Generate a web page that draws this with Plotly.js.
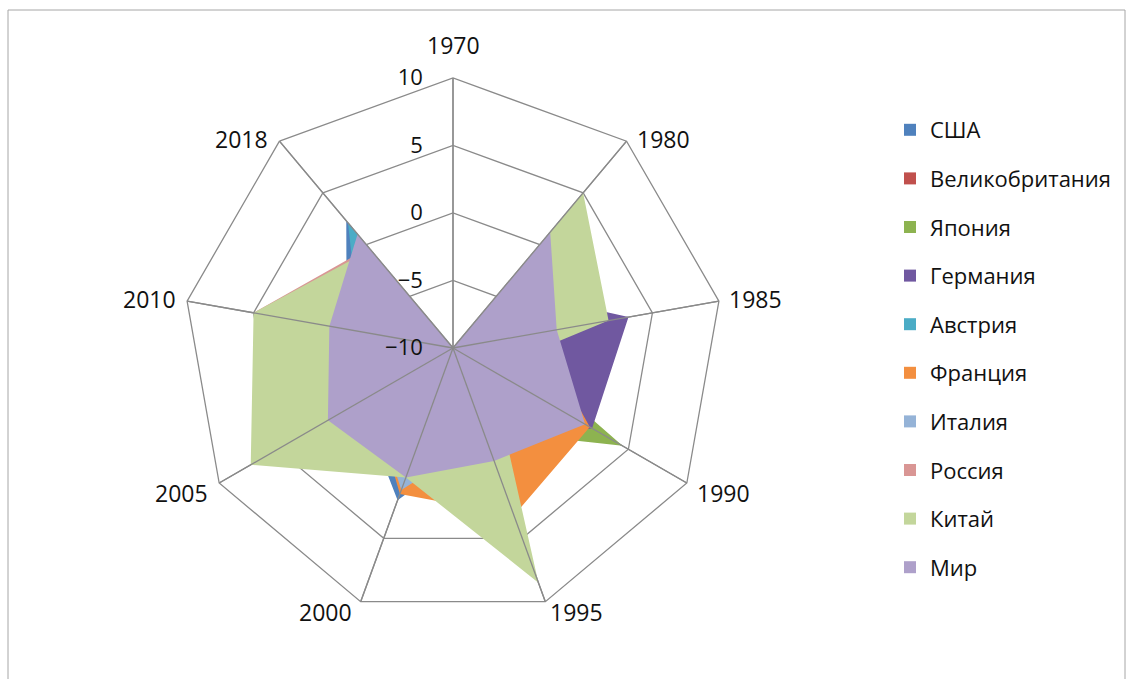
<!DOCTYPE html>
<html>
<head>
<meta charset="utf-8">
<script src="https://cdn.plot.ly/plotly-3.0.1.min.js"></script>
<style>html,body{margin:0;padding:0;background:#fff;}#chart{width:1132px;height:679px;}</style>
</head>
<body>
<div id="chart"></div>
<script>
const categories = ['1970', '1980', '1985', '1990', '1995', '2000', '2005', '2010', '2018'];
const seriesNames = ['США', 'Великобритания', 'Япония', 'Германия', 'Австрия', 'Франция', 'Италия', 'Россия', 'Китай', 'Мир'];
const usa     = [-10, -3,   -3,   -3,   -3,   2.0, -2,  -2,   2.3];
const uk      = [-10, -1,   -3,    0,   -2,  -1,   -1,  -2,  -1];
const japan   = [-10, -5,   -6.4,  4.5, -3.5, -4,  -4,  -4,  -4];
const germany = [-10, -4.3,  3.2,  1.9, -2,   -4,  -4,  -4,  -4];
const austria = [-10, -4,   -4,   -4,   -4,   -3,  -3,  -3,   2.1];
const france  = [-10, -4,   -3.6,  1.7,  3.2,  1.5, -3,  -3,  -3];
const italy   = [-10, -4,   -4,   -4,   -3,   1.2, -3,  -4,  -4];
const russia  = [-10, -2,   -3,   -3,   -3,   -3,   3,   5.0, -0.3];
const china   = [-10,  5.0,  1.7, -6.8,  8.5,  0.2, 7.3, 5.0, -0.5];
const world   = [-10,  1.2, -2.2,  1.3, -1.1,  0.2, 0.7, -0.7, 1.0];
const radialTicks = [-10, -5, 0, 5, 10];
const colors = ['#4F81BD', '#C0504D', '#8DB350', '#7058A0', '#4BACC6', '#F38F3F', '#95B3D7', '#D99694', '#C3D69B', '#AEA0CA'];

const allSeries = [usa, uk, japan, germany, austria, france, italy, russia, china, world];
const FONT = 'Open Sans, Noto Sans, DejaVu Sans, sans-serif';
const GRID = '#8a8a8a';
const W = 1132, H = 679;
const CX = 453, CY = 348, R = 270;   // polar placement in pixels

const traces = [];
allSeries.forEach((vals, i) => {
  traces.push({
    type: 'scatterpolar', r: vals, theta: categories, mode: 'none',
    fill: 'toself', fillcolor: colors[i], name: seriesNames[i],
    showlegend: false, hoverinfo: 'skip'
  });
});
// spokes drawn above the filled areas
const spokeR = [], spokeT = [];
categories.forEach(c => {
  spokeR.push(radialTicks[0], radialTicks[radialTicks.length - 1], null);
  spokeT.push(c, c, c);
});
traces.push({
  type: 'scatterpolar', r: spokeR, theta: spokeT, mode: 'lines',
  line: {color: GRID, width: 1.3}, showlegend: false, hoverinfo: 'skip', connectgaps: false
});
// legend entries (square swatches)
seriesNames.forEach((n, i) => {
  traces.push({
    type: 'scatterpolar', r: [null], theta: [categories[0]], mode: 'markers', name: n,
    legendgroup: 'g' + i,
    marker: {symbol: 'square', size: 11, color: colors[i]},
    hoverinfo: 'skip'
  });
});

// category labels placed just outside the outer polygon vertices (Excel style)
const annotations = categories.map((c, i) => {
  const a = (90 - i * 360 / categories.length) * Math.PI / 180;
  const cs = Math.cos(a), sn = Math.sin(a);
  const vx = CX + R * cs, vy = CY - R * sn;
  let x = vx, y = vy, xa = 'center', ya = 'middle';
  if (cs > 0.1) { xa = 'left'; x = vx + (cs < 0.5 && sn < 0 ? 3 : 8); }
  else if (cs < -0.1) { xa = 'right'; x = vx - (cs > -0.5 && sn < 0 ? 7 : 9); }
  if (Math.abs(cs) <= 0.1 && sn > 0) { ya = 'bottom'; y = vy - 15; }
  else { y = vy + (sn < 0 ? 10 : -2); }
  return {
    text: c, xref: 'paper', yref: 'paper', x: x / W, y: 1 - y / H,
    xanchor: xa, yanchor: ya, showarrow: false,
    font: {family: FONT, size: 23, color: '#111'}
  };
});

const layout = {
  width: W, height: H,
  margin: {l: 0, r: 0, t: 0, b: 0},
  paper_bgcolor: '#fff',
  font: {family: FONT, size: 21, color: '#111'},
  showlegend: true,
  legend: {
    x: 890 / W, y: 1 - 109 / H, xanchor: 'left', yanchor: 'top',
    font: {family: FONT, size: 22, color: '#111'},
    tracegroupgap: 17, bgcolor: 'rgba(0,0,0,0)', itemsizing: 'constant'
  },
  annotations: annotations,
  polar: {
    domain: {x: [(CX - R) / W, (CX + R) / W], y: [(H - CY - R) / H, (H - CY + R) / H]},
    bgcolor: 'rgba(0,0,0,0)',
    gridshape: 'linear',
    angularaxis: {
      type: 'category', categoryarray: categories, direction: 'clockwise', rotation: 90,
      showline: true, linecolor: GRID, linewidth: 1.3,
      showgrid: true, gridcolor: GRID, gridwidth: 1.3,
      showticklabels: false, ticks: ''
    },
    radialaxis: {
      range: [-10, 10], tickvals: radialTicks, angle: 90, side: 'counterclockwise',
      showline: false, showgrid: true, gridcolor: GRID, gridwidth: 1.3,
      ticks: 'outside', ticklen: 22, tickcolor: 'rgba(0,0,0,0)',
      tickfont: {family: FONT, size: 22, color: '#111'},
      layer: 'above traces', tickangle: 90
    }
  },
  shapes: [{
    type: 'rect', xref: 'paper', yref: 'paper',
    x0: 8 / W, x1: 1125 / W, y0: -0.05, y1: (H - 10) / H,
    line: {color: '#a6a6a6', width: 1}
  }]
};

Plotly.newPlot('chart', traces, layout, {displayModeBar: false, staticPlot: true});
</script>
</body>
</html>
